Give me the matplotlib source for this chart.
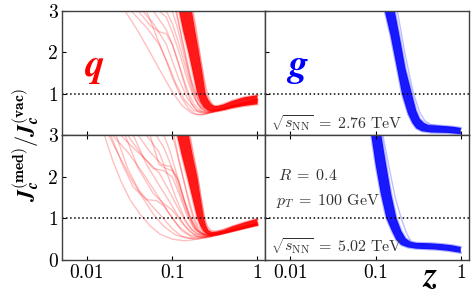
import matplotlib
matplotlib.use("Agg")
import matplotlib.pyplot as plt
from matplotlib.ticker import FixedLocator, FixedFormatter, NullLocator

plt.rcParams['mathtext.fontset'] = 'cm'
plt.rcParams['font.family'] = 'serif'
plt.rcParams['font.serif'] = ['cmr10']
plt.rcParams['axes.unicode_minus'] = False

# ---- quark, 2.76 TeV : dense core (two sides of the band) ----
q276_lo_z = [0.115, 0.12, 0.135, 0.155, 0.175, 0.197, 0.215, 0.235, 0.26, 0.295, 0.34, 0.42, 0.5, 0.7, 1.0]
q276_lo_y = [3.3, 3.0, 2.5, 2.0, 1.5, 1.0, 0.8, 0.68, 0.61, 0.58, 0.59, 0.62, 0.66, 0.71, 0.75]
q276_hi_z = [0.166, 0.17, 0.187, 0.206, 0.226, 0.247, 0.265, 0.285, 0.31, 0.34, 0.4, 0.5, 0.7, 1.0]
q276_hi_y = [3.3, 3.0, 2.5, 2.0, 1.5, 1.0, 0.86, 0.76, 0.71, 0.71, 0.75, 0.83, 0.92, 0.97]

# quark, 2.76 TeV : thin outlying curves
q276_thin_z = [
    [0.024, 0.028, 0.04, 0.055, 0.075, 0.1, 0.13, 0.17, 0.22, 0.3, 0.45, 0.7, 1.0],
    [0.029, 0.033, 0.05, 0.07, 0.09, 0.11, 0.14, 0.18, 0.23, 0.3, 0.5, 1.0],
    [0.04, 0.045, 0.06, 0.085, 0.1, 0.12, 0.15, 0.19, 0.25, 0.35, 0.6, 1.0],
    [0.055, 0.06, 0.085, 0.1, 0.12, 0.15, 0.18, 0.22, 0.28, 0.4, 1.0],
    [0.065, 0.07, 0.085, 0.1, 0.125, 0.15, 0.18, 0.22, 0.27, 0.4, 1.0],
    [0.045, 0.05, 0.065, 0.085, 0.1, 0.125, 0.155, 0.19, 0.24, 0.32, 0.55, 1.0],
    [0.08, 0.085, 0.1, 0.12, 0.145, 0.17, 0.2, 0.24, 0.3, 0.45, 1.0],
    [0.095, 0.1, 0.115, 0.135, 0.16, 0.19, 0.22, 0.27, 0.35, 0.6, 1.0],
    [0.035, 0.04, 0.055, 0.07, 0.085, 0.1, 0.12, 0.145, 0.17, 0.2, 0.25, 0.35, 0.6, 1.0],
    [0.105, 0.11, 0.125, 0.145, 0.17, 0.2, 0.235, 0.28, 0.35, 0.5, 1.0],
    [0.108, 0.112, 0.13, 0.15, 0.17, 0.19, 0.215, 0.25, 0.3, 0.4, 0.6, 1.0],
    [0.17, 0.175, 0.19, 0.21, 0.235, 0.26, 0.28, 0.31, 0.36, 0.5, 1.0],
]
q276_thin_y = [
    [3.5, 3.0, 2.5, 2.0, 1.5, 1.05, 0.72, 0.53, 0.5, 0.57, 0.67, 0.75, 0.8],
    [3.4, 3.0, 2.6, 2.2, 1.7, 1.25, 0.85, 0.6, 0.53, 0.57, 0.7, 0.82],
    [3.3, 3.0, 2.7, 2.2, 1.8, 1.35, 0.9, 0.62, 0.55, 0.6, 0.72, 0.83],
    [3.3, 3.0, 2.55, 2.2, 1.7, 1.1, 0.75, 0.58, 0.56, 0.64, 0.85],
    [3.2, 3.0, 2.85, 2.5, 1.9, 1.35, 0.9, 0.65, 0.58, 0.65, 0.87],
    [3.3, 3.0, 2.4, 1.8, 1.4, 0.95, 0.65, 0.5, 0.5, 0.58, 0.7, 0.8],
    [3.2, 3.0, 2.7, 2.2, 1.6, 1.1, 0.75, 0.6, 0.58, 0.68, 0.88],
    [3.2, 3.0, 2.6, 2.0, 1.4, 0.95, 0.7, 0.6, 0.62, 0.76, 0.88],
    [3.3, 3.0, 2.65, 2.5, 2.45, 2.2, 1.7, 1.1, 0.75, 0.58, 0.53, 0.58, 0.7, 0.82],
    [3.2, 3.0, 2.5, 1.9, 1.3, 0.88, 0.68, 0.6, 0.62, 0.72, 0.86],
    [3.3, 3.0, 2.3, 1.7, 1.2, 0.85, 0.65, 0.57, 0.58, 0.64, 0.74, 0.84],
    [3.3, 3.0, 2.6, 2.0, 1.4, 1.0, 0.82, 0.7, 0.68, 0.78, 0.95],
]

# ---- quark, 5.02 TeV ----
q502_lo_z = [0.11, 0.114, 0.13, 0.15, 0.172, 0.197, 0.215, 0.235, 0.26, 0.29, 0.35, 0.5, 0.7, 1.0]
q502_lo_y = [3.3, 3.0, 2.5, 2.0, 1.5, 1.0, 0.8, 0.68, 0.61, 0.59, 0.62, 0.69, 0.76, 0.83]
q502_hi_z = [0.152, 0.157, 0.175, 0.197, 0.215, 0.236, 0.25, 0.265, 0.29, 0.33, 0.4, 0.5, 0.7, 1.0]
q502_hi_y = [3.3, 3.0, 2.5, 2.0, 1.5, 1.0, 0.82, 0.72, 0.67, 0.68, 0.72, 0.8, 0.9, 0.99]

q502_thin_z = [
    [0.014, 0.016, 0.02, 0.025, 0.032, 0.042, 0.055, 0.072, 0.1, 0.14, 0.2, 0.3, 0.5, 1.0],
    [0.016, 0.018, 0.024, 0.032, 0.045, 0.06, 0.08, 0.11, 0.15, 0.22, 0.35, 0.6, 1.0],
    [0.018, 0.02, 0.03, 0.045, 0.065, 0.09, 0.12, 0.16, 0.22, 0.32, 0.55, 1.0],
    [0.022, 0.025, 0.035, 0.05, 0.07, 0.09, 0.12, 0.15, 0.19, 0.25, 0.4, 1.0],
    [0.027, 0.03, 0.045, 0.06, 0.08, 0.1, 0.12, 0.15, 0.18, 0.23, 0.3, 0.5, 1.0],
    [0.017, 0.019, 0.026, 0.035, 0.05, 0.065, 0.08, 0.1, 0.13, 0.17, 0.24, 0.4, 1.0],
    [0.036, 0.04, 0.055, 0.075, 0.095, 0.11, 0.13, 0.155, 0.19, 0.24, 0.35, 1.0],
    [0.046, 0.05, 0.07, 0.09, 0.11, 0.14, 0.17, 0.21, 0.28, 0.45, 1.0],
    [0.06, 0.065, 0.08, 0.1, 0.12, 0.145, 0.175, 0.21, 0.27, 0.4, 1.0],
    [0.075, 0.08, 0.095, 0.115, 0.135, 0.16, 0.19, 0.23, 0.3, 0.5, 1.0],
    [0.095, 0.1, 0.11, 0.13, 0.15, 0.175, 0.2, 0.24, 0.3, 0.5, 1.0],
    [0.02, 0.022, 0.03, 0.04, 0.055, 0.075, 0.1, 0.13, 0.18, 0.26, 0.45, 1.0],
    [0.032, 0.035, 0.05, 0.07, 0.09, 0.11, 0.14, 0.18, 0.24, 0.35, 0.6, 1.0],
    [0.05, 0.055, 0.07, 0.085, 0.1, 0.12, 0.14, 0.17, 0.2, 0.25, 0.35, 1.0],
    [0.025, 0.028, 0.04, 0.06, 0.08, 0.1, 0.125, 0.16, 0.2, 0.27, 0.4, 1.0],
    [0.1, 0.105, 0.12, 0.14, 0.16, 0.18, 0.2, 0.23, 0.27, 0.35, 0.6, 1.0],
    [0.158, 0.162, 0.18, 0.2, 0.22, 0.24, 0.26, 0.29, 0.34, 0.5, 1.0],
]
q502_thin_y = [
    [3.5, 3.0, 2.4, 1.9, 1.45, 1.1, 0.82, 0.62, 0.5, 0.46, 0.5, 0.58, 0.7, 0.84],
    [3.4, 3.0, 2.5, 2.0, 1.5, 1.1, 0.8, 0.6, 0.52, 0.53, 0.62, 0.74, 0.85],
    [3.3, 3.0, 2.6, 2.1, 1.6, 1.15, 0.8, 0.6, 0.55, 0.6, 0.72, 0.86],
    [3.3, 3.0, 2.7, 2.4, 2.1, 1.7, 1.2, 0.85, 0.64, 0.58, 0.66, 0.87],
    [3.3, 3.0, 2.5, 2.2, 2.15, 2.0, 1.6, 1.05, 0.75, 0.6, 0.6, 0.7, 0.86],
    [3.4, 3.0, 2.3, 1.75, 1.45, 1.43, 1.3, 1.0, 0.7, 0.55, 0.55, 0.65, 0.84],
    [3.3, 3.0, 2.6, 2.3, 2.25, 2.05, 1.6, 1.1, 0.72, 0.6, 0.63, 0.88],
    [3.3, 3.0, 2.6, 2.0, 1.5, 1.0, 0.72, 0.6, 0.58, 0.67, 0.86],
    [3.3, 3.0, 2.7, 2.2, 1.7, 1.2, 0.82, 0.64, 0.6, 0.66, 0.88],
    [3.3, 3.0, 2.6, 2.0, 1.5, 1.05, 0.76, 0.63, 0.61, 0.72, 0.9],
    [3.3, 3.0, 2.7, 2.1, 1.6, 1.1, 0.8, 0.65, 0.62, 0.73, 0.9],
    [3.4, 3.0, 2.2, 1.7, 1.35, 1.05, 0.75, 0.57, 0.5, 0.54, 0.66, 0.83],
    [3.3, 3.0, 2.3, 1.8, 1.45, 1.15, 0.82, 0.62, 0.56, 0.6, 0.72, 0.85],
    [3.3, 3.0, 2.3, 2.2, 2.15, 1.9, 1.4, 0.95, 0.7, 0.6, 0.62, 0.87],
    [3.3, 3.0, 2.2, 1.6, 1.35, 1.2, 0.95, 0.68, 0.56, 0.55, 0.63, 0.85],
    [3.3, 3.0, 2.4, 1.8, 1.3, 0.95, 0.75, 0.62, 0.58, 0.62, 0.74, 0.86],
    [3.3, 3.0, 2.5, 2.0, 1.45, 1.0, 0.8, 0.7, 0.69, 0.8, 0.98],
]

# ---- gluon, 2.76 TeV ----
g276_lo_z = [0.123, 0.128, 0.15, 0.175, 0.204, 0.24, 0.27, 0.3, 0.35, 0.45, 0.7, 1.0]
g276_lo_y = [3.3, 3.0, 2.4, 1.7, 1.0, 0.52, 0.3, 0.17, 0.1, 0.07, 0.06, 0.03]
g276_hi_z = [0.164, 0.168, 0.195, 0.225, 0.267, 0.3, 0.33, 0.37, 0.42, 0.6, 0.8, 1.0]
g276_hi_y = [3.3, 3.0, 2.3, 1.6, 1.0, 0.6, 0.4, 0.3, 0.25, 0.23, 0.21, 0.18]
g276_thin_z = [[0.175, 0.18, 0.22, 0.265, 0.29, 0.33, 0.38, 0.45, 0.6, 1.0]]
g276_thin_y = [[3.3, 3.0, 2.0, 1.2, 0.9, 0.55, 0.35, 0.26, 0.21, 0.16]]

# ---- gluon, 5.02 TeV ----
g502_lo_z = [0.086, 0.089, 0.1, 0.115, 0.134, 0.155, 0.175, 0.2, 0.24, 0.3, 0.5, 0.7, 1.0]
g502_lo_y = [3.3, 3.0, 2.3, 1.6, 1.0, 0.7, 0.48, 0.36, 0.3, 0.27, 0.25, 0.22, 0.17]
g502_hi_z = [0.113, 0.117, 0.133, 0.152, 0.176, 0.2, 0.225, 0.26, 0.3, 0.45, 0.6, 0.8, 1.0]
g502_hi_y = [3.3, 3.0, 2.3, 1.6, 1.0, 0.7, 0.52, 0.43, 0.41, 0.4, 0.38, 0.35, 0.31]
g502_thin_z = [[0.118, 0.122, 0.145, 0.17, 0.2, 0.23, 0.26, 0.3, 0.4]]
g502_thin_y = [[3.3, 3.0, 2.2, 1.5, 1.0, 0.65, 0.45, 0.39, 0.37]]

xticks = [0.01, 0.1, 1]
xticklabels = ['0.01', '0.1', '1']

RED = '#ff0000'
BLUE = '#0000ff'


def draw_band(ax, lo_z, lo_y, hi_z, hi_y, thin_z, thin_y, color):
    for zz, yy in zip(thin_z, thin_y):
        ax.plot(zz, yy, color=color, alpha=0.25, lw=1.0)
    # polygon made of both sides of the dense bundle
    ax.fill(list(lo_z) + list(hi_z)[::-1], list(lo_y) + list(hi_y)[::-1],
            color=color, alpha=0.9, lw=0)
    ax.plot(lo_z, lo_y, color=color, alpha=0.3, lw=1.6)
    ax.plot(hi_z, hi_y, color=color, alpha=0.3, lw=1.6)


fig, axs = plt.subplots(2, 2, figsize=(4.74, 2.96), dpi=100)
plt.subplots_adjust(left=0.131, right=0.989, bottom=0.122, top=0.963, wspace=0, hspace=0)

draw_band(axs[0, 0], q276_lo_z, q276_lo_y, q276_hi_z, q276_hi_y, q276_thin_z, q276_thin_y, RED)
draw_band(axs[1, 0], q502_lo_z, q502_lo_y, q502_hi_z, q502_hi_y, q502_thin_z, q502_thin_y, RED)
draw_band(axs[0, 1], g276_lo_z, g276_lo_y, g276_hi_z, g276_hi_y, g276_thin_z, g276_thin_y, BLUE)
draw_band(axs[1, 1], g502_lo_z, g502_lo_y, g502_hi_z, g502_hi_y, g502_thin_z, g502_thin_y, BLUE)

for i in range(2):
    for j in range(2):
        ax = axs[i, j]
        ax.axhline(1.0, color='black', ls=':', lw=1.1)
        ax.set_xscale('log')
        ax.set_xlim(0.0051, 1.24)
        ax.set_ylim(0, 3)
        ax.xaxis.set_major_locator(FixedLocator(xticks))
        ax.xaxis.set_minor_locator(NullLocator())
        ax.xaxis.set_major_formatter(FixedFormatter(xticklabels))
        ax.set_yticks([1, 2, 3] if i == 0 else [0, 1, 2, 3])
        ax.tick_params(direction='in', length=3, width=0.8, labelsize=14,
                       top=(i == 1), pad=3)
        if i == 0:
            ax.tick_params(labelbottom=False)
        if j == 1:
            ax.tick_params(labelleft=False)
        for s in ax.spines.values():
            s.set_color('#404040')
            s.set_linewidth(1.0)

axs[0, 0].text(0.16, 0.48, r'$\boldsymbol{q}$', color=RED, fontsize=28,
               transform=axs[0, 0].transAxes, ha='center', va='baseline')
axs[0, 1].text(0.157, 0.48, r'$\boldsymbol{g}$', color=BLUE, fontsize=28,
               transform=axs[0, 1].transAxes, ha='center', va='baseline')

txt_kw = dict(color='#333333', fontsize=11.5, va='baseline', ha='left')
axs[0, 1].text(0.025, 0.055, r'$\sqrt{s_{\mathrm{NN}}}\;=\;2.76\ \mathrm{TeV}$',
               transform=axs[0, 1].transAxes, **txt_kw)
axs[1, 1].text(0.025, 0.066, r'$\sqrt{s_{\mathrm{NN}}}\;=\;5.02\ \mathrm{TeV}$',
               transform=axs[1, 1].transAxes, **txt_kw)
axs[1, 1].text(0.06, 0.64, r'$R\;=\;0.4$', transform=axs[1, 1].transAxes, **txt_kw)
axs[1, 1].text(0.05, 0.44, r'$p_T\;=\;100\ \mathrm{GeV}$', transform=axs[1, 1].transAxes, **txt_kw)

fig.text(0.055, 0.51,
         r'$\boldsymbol{J}_{\boldsymbol{c}}^{(\mathbf{med})}/\boldsymbol{J}_{\boldsymbol{c}}^{(\mathbf{vac})}$',
         rotation=90, ha='center', va='center', fontsize=16)
fig.text(0.907, 0.064, r'$\boldsymbol{z}$', ha='center', va='center', fontsize=25)

fig.savefig('out.png', dpi=100)
